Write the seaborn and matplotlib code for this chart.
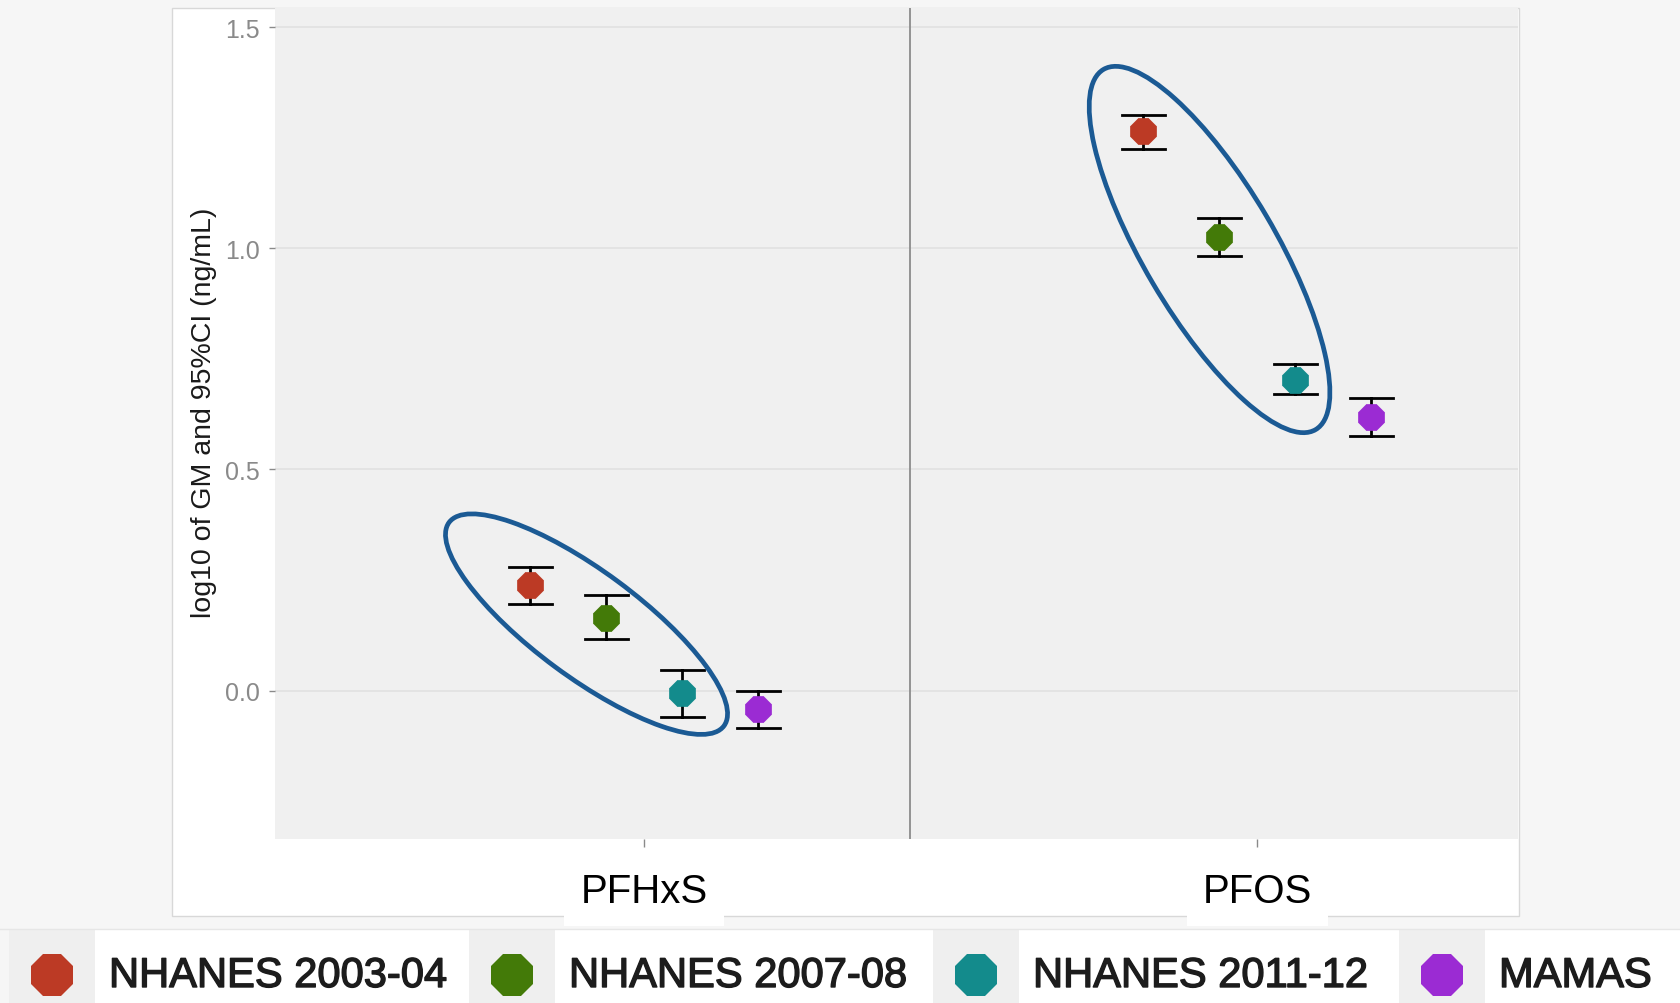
import numpy as np
import pandas as pd
import seaborn as sns
import matplotlib
matplotlib.use("Agg")
import matplotlib.pyplot as plt
import matplotlib.patheffects as pe
from matplotlib.patches import Ellipse, Rectangle
from matplotlib.transforms import ScaledTranslation

plt.rcParams["font.family"] = ["Liberation Sans", "DejaVu Sans"]

# ---- data -------------------------------------------------------------
compounds = ["PFHxS", "PFOS"]
studies = ["NHANES 2003-04", "NHANES 2007-08", "NHANES 2011-12", "MAMAS"]
colors = ["#BC3A25", "#437A08", "#138B8C", "#9B2BD3"]

# log10 geometric mean and 95% CI bounds, one value per study
gm_pfhxs = [0.238, 0.163, -0.006, -0.041]
lo_pfhxs = [0.195, 0.116, -0.059, -0.085]
hi_pfhxs = [0.280, 0.216, 0.047, 0.000]

gm_pfos = [1.264, 1.025, 0.702, 0.618]
lo_pfos = [1.225, 0.983, 0.670, 0.576]
hi_pfos = [1.300, 1.068, 0.738, 0.661]

y_ticks = [0.0, 0.5, 1.0, 1.5]
y_label = "log10 of GM and 95%CI (ng/mL)"

# long table: each study contributes its lower bound, estimate and upper bound;
# median of the three is the estimate and the 0-100 percentile interval is the CI
rows = []
for comp, gm, lo, hi in [("PFHxS", gm_pfhxs, lo_pfhxs, hi_pfhxs),
                         ("PFOS", gm_pfos, lo_pfos, hi_pfos)]:
    for s, g, l, h in zip(studies, gm, lo, hi):
        for v in (l, g, h):
            rows.append({"compound": comp, "study": s, "value": v})
df = pd.DataFrame(rows)

# ---- figure -----------------------------------------------------------
W, H = 1681, 1004
fig = plt.figure(figsize=(W / 100, H / 100), dpi=100, facecolor="#f6f6f6")

# background layer in pixel coordinates (panel and legend strip)
bg = fig.add_axes([0, 0, 1, 1], zorder=-1)
bg.set_xlim(0, W)
bg.set_ylim(H, 0)
bg.axis("off")
bg.add_patch(Rectangle((172, 9), 1519 - 172, 917 - 9, facecolor="white",
                       edgecolor="#d8d8d8", linewidth=1.0))

ax = fig.add_axes([275 / W, 1 - 840 / H, (1518 - 275) / W, (840 - 9) / H], zorder=1)
ax.set_facecolor("#f0f0f0")

sns.pointplot(data=df, x="compound", y="value", hue="study",
              order=compounds, hue_order=studies, palette=colors,
              estimator="median", errorbar=("pi", 100),
              dodge=0.372, markers="8", linestyles="none",
              markersize=20, markeredgewidth=0.5,
              capsize=0.07, err_kws={"color": "black", "linewidth": 2.0},
              legend=False, ax=ax)

# markers above their error bars
for ln in ax.lines:
    if ln.get_marker() == "8":
        ln.set_zorder(5)

ax.set_xlim(-0.602, 1.425)
ax.set_ylim(-0.3357, 1.543)
ax.set_yticks(y_ticks)
ax.set_yticklabels([f"{t:.1f}" for t in y_ticks])
ax.set_xlabel("")
ax.set_ylabel("")
for sp in ax.spines.values():
    sp.set_visible(False)
ax.grid(axis="y", color="#e2e2e2", linewidth=1.3)
ax.grid(axis="x", visible=False)
ax.set_axisbelow(True)
ax.tick_params(axis="y", colors="#8a8a8a", labelsize=18, length=4.5, width=1, pad=6.5)
ax.tick_params(axis="x", colors="#8a8a8a", labelcolor="black", labelsize=29,
               length=6, width=1, pad=18)
for lab in ax.get_xticklabels():
    lab.set_bbox(dict(boxstyle="square,pad=0.4", facecolor="white", edgecolor="none"))

# panel divider
ax.axvline(0.433, color="#8c8c8c", linewidth=1.3, zorder=2)

# highlight ellipses around the NHANES series (sized in inches, centred in data units)
def ring(cx, cy, w_in, h_in, angle):
    tr = fig.dpi_scale_trans + ScaledTranslation(cx, cy, ax.transData)
    ax.add_patch(Ellipse((0, 0), w_in, h_in, angle=angle, transform=tr,
                         fill=False, edgecolor="#1B5A94", linewidth=3.4, zorder=6))

ring(-0.094, 0.150, 3.42, 1.06, -36.5)
ring(0.922, 0.997, 4.18, 1.32, -59.5)

fig.text(204 / W, 1 - 412.5 / H, y_label, rotation=90, ha="center", va="center",
         fontsize=20.5, color="#1a1a1a")

# ---- legend strip -----------------------------------------------------
key_left = [9, 469, 933, 1399]
key_w = 86
strip_top = 930
bg.plot([0, W], [strip_top, strip_top], color="#e6e6e6", linewidth=1)
for i, (name, c) in enumerate(zip(studies, colors)):
    x0 = key_left[i]
    x1 = key_left[i + 1] if i + 1 < len(key_left) else W
    bg.add_patch(Rectangle((x0, strip_top), key_w, H - strip_top,
                           facecolor="#efefef", edgecolor="none"))
    bg.add_patch(Rectangle((x0 + key_w, strip_top), x1 - x0 - key_w, H - strip_top,
                           facecolor="white", edgecolor="none"))
    bg.plot([x0 + key_w / 2], [975.5], marker="8", markersize=32,
            color=c, markeredgewidth=0, linestyle="none")
    bg.text(x0 + key_w + 14, 977, name, ha="left", va="center",
            fontsize=30, color="#1c1c1c",
            path_effects=[pe.withStroke(linewidth=1.0, foreground="#1c1c1c")])

fig.savefig("out.png", dpi=100, facecolor=fig.get_facecolor())
